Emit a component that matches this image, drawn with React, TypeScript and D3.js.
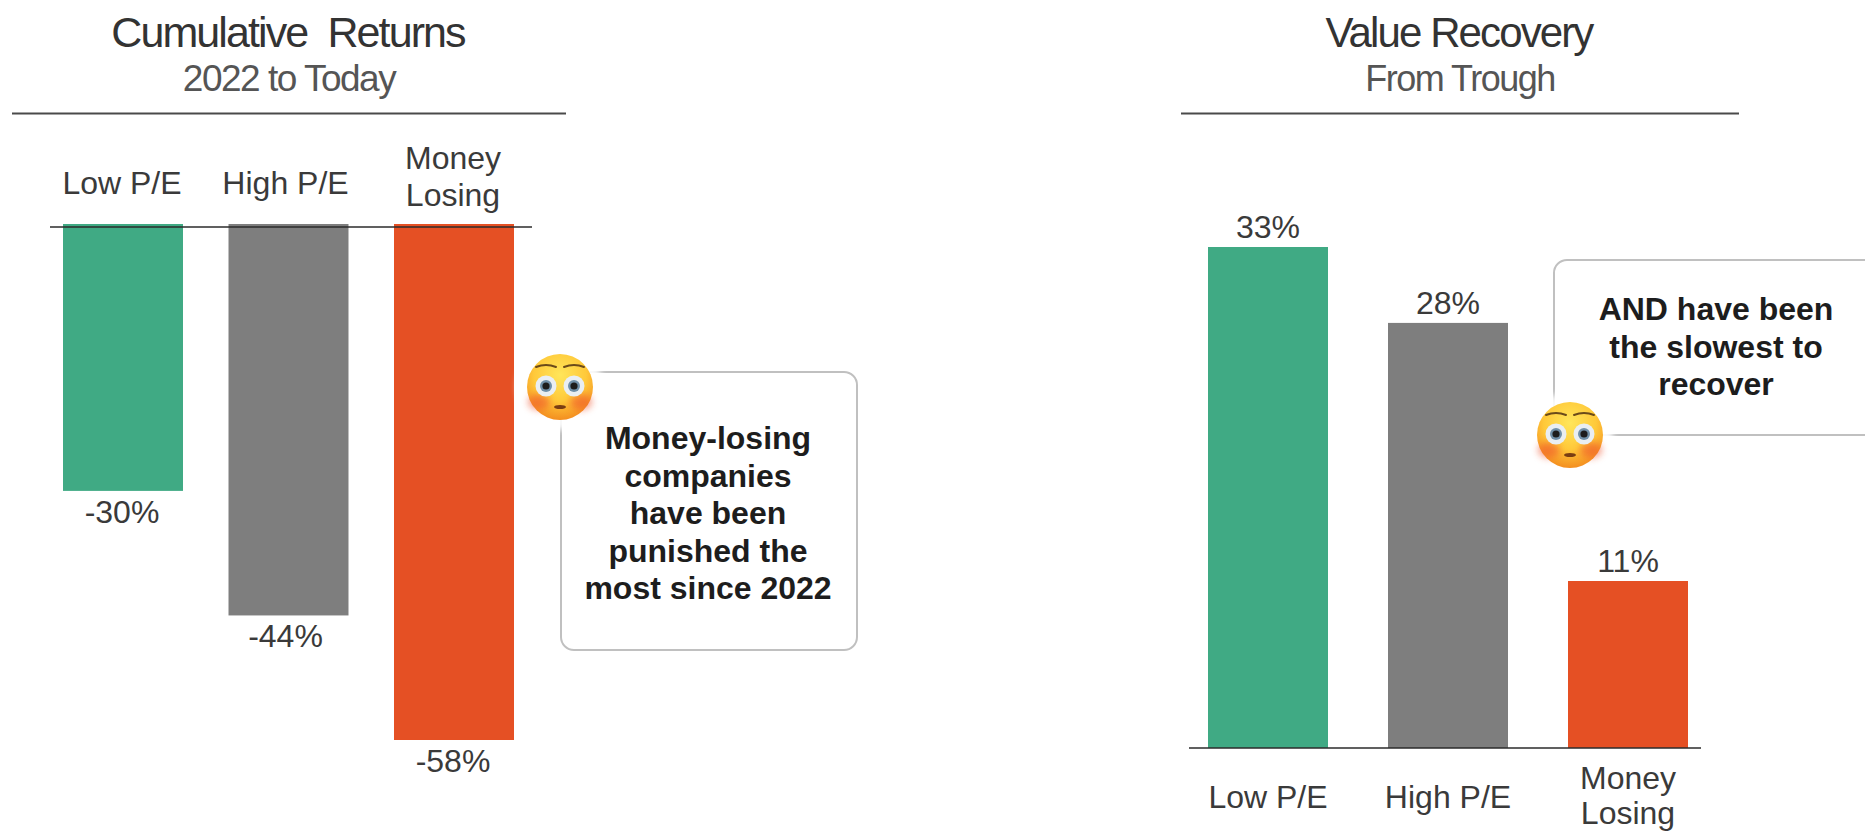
import React from "react";
import * as d3 from "d3";

const categories = ["Low P/E", "High P/E", "Money Losing"];
const cumulativeReturns = [-30, -44, -58];
const valueRecovery = [33, 28, 11];
const barColors = ["#40AA84", "#7E7E7E", "#E55024"];
const leftNote = ["Money-losing", "companies", "have been", "punished the", "most since 2022"];
const rightNote = ["AND have been", "the slowest to", "recover"];

const FONT = "'Liberation Sans', Arial, sans-serif";
const INK = "#3a3a3a";

const wrapLabel = (name: string) => (name === "Money Losing" ? ["Money", "Losing"] : [name]);

function Flushed({ cx, cy }: { cx: number; cy: number }) {
  return (
    <g transform={`translate(${cx},${cy})`}>
      <circle r={43} fill="#fff" opacity={0.9} filter="url(#halo)" />
      <circle r={33} fill="url(#face)" />
      <ellipse cx={-21} cy={15} rx={11} ry={8} fill="#F0502A" opacity={0.55} filter="url(#cheek)" />
      <ellipse cx={21} cy={15} rx={11} ry={8} fill="#F0502A" opacity={0.55} filter="url(#cheek)" />
      {[-14, 14].map((dx) => (
        <g key={dx}>
          <circle cx={dx} cy={-1} r={10.5} fill="#E9EEF2" />
          <circle cx={dx} cy={-1} r={6} fill="#6F8FA8" />
          <circle cx={dx} cy={-1} r={3.6} fill="#1c1c1c" />
          <path
            d={`M${dx - 10},${-20} Q${dx},${-24} ${dx + 10},${-20}`}
            fill="none"
            stroke="#6B4A1A"
            strokeWidth={2}
            strokeLinecap="round"
          />
        </g>
      ))}
      <ellipse cx={0} cy={20} rx={6} ry={2} fill="#7A3E12" />
    </g>
  );
}

function Heading({ title, sub, x0, x1, titleSize, subSize }: { title: string; sub: string; x0: number; x1: number; titleSize: number; subSize: number }) {
  const mid = (x0 + x1) / 2;
  return (
    <g textAnchor="middle" fontFamily={FONT}>
      <text x={mid - 1} y={47} fontSize={titleSize} letterSpacing={-1.9} fill="#333" style={{ whiteSpace: "pre" }}>
        {title}
      </text>
      <text x={mid} y={91} fontSize={subSize} letterSpacing={-1.5} fill="#555">
        {sub}
      </text>
      <line x1={x0} x2={x1} y1={113.5} y2={113.5} stroke="#4a4a4a" strokeWidth={2} />
    </g>
  );
}

function Note({ lines, x, y, w, h, textX, firstBaseline }: { lines: string[]; x: number; y: number; w: number; h: number; textX: number; firstBaseline: number }) {
  return (
    <g>
      <rect x={x} y={y} width={w} height={h} rx={13} fill="#fff" stroke="#c0c0c0" strokeWidth={2} />
      {lines.map((line, i) => (
        <text
          key={line}
          x={textX}
          y={firstBaseline + i * 37.5}
          textAnchor="middle"
          fontFamily={FONT}
          fontWeight={700}
          fontSize={32}
          fill="#1d1d1d"
        >
          {line}
        </text>
      ))}
    </g>
  );
}

export default function App() {
  // Returns panel: bars hang from a baseline near the top.
  const xL = d3.scaleBand<string>().domain(categories).range([63, 514]).paddingInner(0.275).paddingOuter(0);
  const yL = d3.scaleLinear().domain([0, -58]).range([224, 740]);

  // Recovery panel: bars stand on a baseline near the bottom.
  const xR = d3.scaleBand<string>().domain(categories).range([1208, 1688]).paddingInner(1 / 3).paddingOuter(0);
  const yR = d3.scaleLinear().domain([0, 33]).range([748, 247]);

  return (
    <svg
      width={1865}
      height={832}
      viewBox="0 0 1865 832"
      style={{ position: "absolute", left: 0, top: 0, display: "block", background: "#fff" }}
    >
      <defs>
        <radialGradient id="face" cx="50%" cy="32%" r="72%">
          <stop offset="0%" stopColor="#FFE65A" />
          <stop offset="55%" stopColor="#FFC93A" />
          <stop offset="100%" stopColor="#F2861C" />
        </radialGradient>
        <filter id="halo" x="-30%" y="-30%" width="160%" height="160%">
          <feGaussianBlur stdDeviation="3" />
        </filter>
        <filter id="cheek" x="-50%" y="-50%" width="200%" height="200%">
          <feGaussianBlur stdDeviation="3.5" />
        </filter>
      </defs>

      <Heading title="Cumulative  Returns" sub="2022 to Today" x0={12} x1={566} titleSize={43} subSize={37} />
      <Heading title="Value Recovery" sub="From Trough" x0={1181} x1={1739} titleSize={42} subSize={36} />

      {/* Returns panel */}
      {categories.map((c, i) => (
        <rect
          key={c}
          x={xL(c)}
          y={yL(0)}
          width={xL.bandwidth()}
          height={yL(cumulativeReturns[i]) - yL(0)}
          fill={barColors[i]}
        />
      ))}
      <line x1={50} x2={532} y1={227} y2={227} stroke="#2b2b2b" strokeWidth={1.6} />
      {categories.map((c, i) => {
        const lines = wrapLabel(c);
        const cx = xL(c)! + xL.bandwidth() / 2;
        return (
          <g key={c} fontFamily={FONT} fontSize={32} textAnchor="middle" fill={INK}>
            {lines.map((l, j) => (
              <text key={l} x={cx - (i === 1 ? 3 : 1)} y={lines.length > 1 ? 169 + j * 37 : 194}>
                {l}
              </text>
            ))}
            <text x={cx - (i === 1 ? 3 : 1)} y={yL(cumulativeReturns[i]) + 32}>
              {`${cumulativeReturns[i]}%`}
            </text>
          </g>
        );
      })}
      <Note lines={leftNote} x={561} y={372} w={296} h={278} textX={708} firstBaseline={449} />
      <Flushed cx={560} cy={387} />

      {/* Recovery panel */}
      {categories.map((c, i) => (
        <rect
          key={c}
          x={xR(c)}
          y={yR(valueRecovery[i])}
          width={xR.bandwidth()}
          height={yR(0) - yR(valueRecovery[i])}
          fill={barColors[i]}
        />
      ))}
      <line x1={1189} x2={1701} y1={yR(0)} y2={yR(0)} stroke="#2b2b2b" strokeWidth={1.6} />
      {categories.map((c, i) => {
        const lines = wrapLabel(c);
        const cx = xR(c)! + xR.bandwidth() / 2;
        return (
          <g key={c} fontFamily={FONT} fontSize={32} textAnchor="middle" fill={INK}>
            {lines.map((l, j) => (
              <text key={l} x={cx} y={lines.length > 1 ? 789 + j * 35 : 808}>
                {l}
              </text>
            ))}
            <text x={cx} y={yR(valueRecovery[i]) - 9}>
              {`${valueRecovery[i]}%`}
            </text>
          </g>
        );
      })}
      <Note lines={rightNote} x={1554} y={260} w={330} h={175} textX={1716} firstBaseline={320} />
      <Flushed cx={1570} cy={435} />
    </svg>
  );
}
